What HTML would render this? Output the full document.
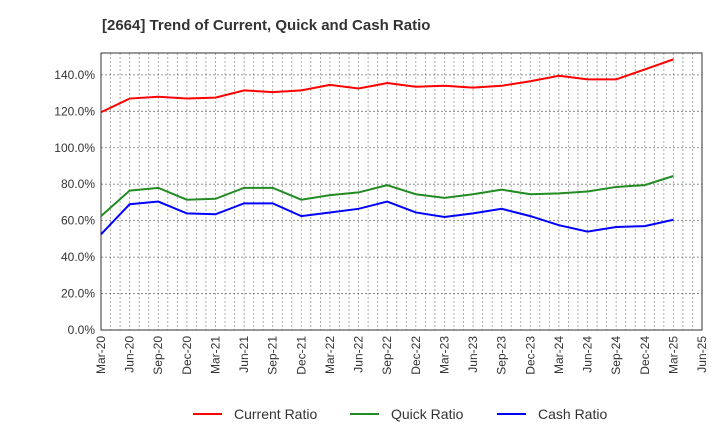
<!DOCTYPE html>
<html><head><meta charset="utf-8"><style>
body{margin:0;background:#fff;font-family:"Liberation Sans",sans-serif;}
svg text{font-family:"Liberation Sans",sans-serif;}
</style></head><body>
<svg id="c" width="720" height="440">
<text x="102" y="30" font-size="15" font-weight="bold" fill="#333">[2664]  Trend of Current, Quick and Cash Ratio</text>
<g id="grid"></g><g id="axes"></g><g id="series"></g><g id="legend"></g>
</svg>
<script>
const categories=["Mar-20","Jun-20","Sep-20","Dec-20","Mar-21","Jun-21","Sep-21","Dec-21","Mar-22","Jun-22","Sep-22","Dec-22","Mar-23","Jun-23","Sep-23","Dec-23","Mar-24","Jun-24","Sep-24","Dec-24","Mar-25","Jun-25"];
const currentRatio=[119.5,127,128,127,127.5,131.5,130.5,131.5,134.5,132.5,135.5,133.5,134,133,134,136.5,139.5,137.5,137.5,143,148.5];
const quickRatio=[62.5,76.5,78,71.5,72,78,78,71.5,74,75.5,79.5,74.5,72.5,74.5,77,74.5,75,76,78.5,79.5,84.5];
const cashRatio=[52.5,69,70.5,64,63.5,69.5,69.5,62.5,64.5,66.5,70.5,64.5,62,64,66.5,62.5,57.5,54,56.5,57,60.5];
const yTicks=[0,20,40,60,80,100,120,140];
const L=101,R=702,T=53,B=330,yMax=152;
const NS="http://www.w3.org/2000/svg";
const x=i=>L+(R-L)*i/(categories.length-1);
const y=v=>B-(B-T)*v/yMax;
function mk(tag,attrs,parent){const e=document.createElementNS(NS,tag);for(const k in attrs)e.setAttribute(k,attrs[k]);document.getElementById(parent).appendChild(e);return e;}
for(let m=1;m<(categories.length-1)*3;m++){const xx=L+(R-L)*m/((categories.length-1)*3);
const g=mk('line',{x1:xx,x2:xx,y1:T,y2:B,stroke:'#999','stroke-width':0.8,'stroke-dasharray':'2,2'},'grid');

}
yTicks.forEach(v=>{if(v>0){const g=mk('line',{x1:L,x2:R,y1:y(v),y2:y(v),stroke:'#777','stroke-width':0.8,'stroke-dasharray':'2,2'},'grid');

}
const t=mk('text',{x:L-6,y:y(v)+4,'text-anchor':'end','font-size':12,fill:'#333'},'axes');t.textContent=v.toFixed(1)+'%';

});
const fr=mk('rect',{x:L,y:T,width:R-L,height:B-T,fill:'none',stroke:'#333','stroke-width':1},'axes');


categories.forEach((c,i)=>{const t=mk('text',{transform:`translate(${x(i)+4},${B+6}) rotate(-90)`,'text-anchor':'end','font-size':12,fill:'#333'},'axes');t.textContent=c;

});
[[currentRatio,'#ff0000','current-ratio-line'],[quickRatio,'#228b22','quick-ratio-line'],[cashRatio,'#0000ff','cash-ratio-line']].forEach(([d,col,n])=>{
const p=mk('polyline',{points:d.map((v,i)=>x(i)+','+y(v)).join(' '),fill:'none',stroke:col,'stroke-width':2},'series');

});
[['Current Ratio','#ff0000',193],['Quick Ratio','#228b22',350],['Cash Ratio','#0000ff',497]].forEach(([lab,col,lx])=>{
const l=mk('line',{x1:lx,x2:lx+29,y1:414,y2:414,stroke:col,'stroke-width':2},'legend');


const t=mk('text',{x:lx+41,y:419,'font-size':14,fill:'#333'},'legend');t.textContent=lab;

});
</script>
</body></html>
